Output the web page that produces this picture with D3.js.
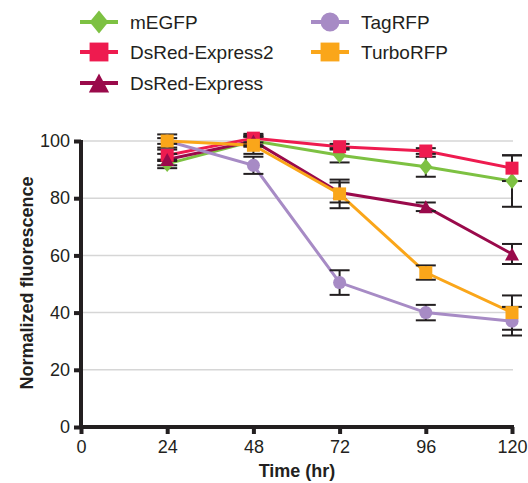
<!DOCTYPE html>
<html>
<head>
<meta charset="utf-8">
<script src="https://cdn.jsdelivr.net/npm/d3@7"></script>
<style>
  body { margin: 0; background: #fff; }
  text { font-family: "Liberation Sans", Arial, sans-serif; fill: #231f20; }
</style>
</head>
<body>
<svg id="chart" width="528" height="483"></svg>
<script>
// time points (hr) and tick labels
const times = [24, 48, 72, 96, 120];
const xTicks = [0, 24, 48, 72, 96, 120];
const yTicks = [0, 20, 40, 60, 80, 100];

// normalized fluorescence
const mEGFP = [92, 100, 95, 91, 86];
const mEGFPErr = [1.5, 1.5, 2.5, 3.5, 9];
const dsRedExpress2 = [95, 101, 98, 96.5, 90.5];
const dsRedExpress2Err = [2, 1.5, 1, 1, 4.5];
const dsRedExpress = [93.5, 100, 82, 77, 60.5];
const dsRedExpressErr = [2, 2, 3.5, 1.5, 3.5];
const tagRFP = [100, 91.5, 50.5, 40, 37];
const tagRFPErr = [1, 3, 4.3, 2.7, 5];
const turboRFP = [100, 98.5, 81.5, 54, 40];
const turboRFPErr = [2.3, 3, 5, 2.5, 6];

var series = [
    {name: "mEGFP", values: mEGFP, err: mEGFPErr, color: "#7dc142", shape: "diamond"},
    {name: "DsRed-Express2", values: dsRedExpress2, err: dsRedExpress2Err, color: "#ee1b4f", shape: "square"},
    {name: "DsRed-Express", values: dsRedExpress, err: dsRedExpressErr, color: "#9a0a4b", shape: "triangle"},
    {name: "TagRFP", values: tagRFP, err: tagRFPErr, color: "#a78bc5", shape: "circle"},
    {name: "TurboRFP", values: turboRFP, err: turboRFPErr, color: "#faa61a", shape: "square"}
];

var svg = d3.select("#chart");
var dark = "#231f20";

var x = d3.scaleLinear().domain([0, 120]).range([81, 512]);
var y = d3.scaleLinear().domain([0, 100]).range([427, 141]);

// marker path, k scales it up for the legend
function markerPath(shape, k) {
    k = k || 1;
    if (shape == "square") {
        var s = 6.5 * k;
        return "M" + (-s) + "," + (-s) + "H" + s + "V" + s + "H" + (-s) + "Z";
    }
    if (shape == "diamond") {
        var w = 6.5 * k, h = 8 * k;
        return "M0," + (-h) + "L" + w + ",0L0," + h + "L" + (-w) + ",0Z";
    }
    if (shape == "triangle") {
        var w = 7 * k, h = 6.5 * k;
        return "M0," + (-h) + "L" + w + "," + h + "L" + (-w) + "," + h + "Z";
    }
    var r = 6.5 * k;
    return "M" + r + ",0A" + r + "," + r + " 0 1,1 " + (-r) + ",0A" + r + "," + r + " 0 1,1 " + r + ",0Z";
}

// gridlines
svg.append("g").selectAll("line")
    .data(yTicks.filter(function(d) { return d > 0; }))
    .enter().append("line")
    .attr("x1", x(0) + 2).attr("x2", x(120) + 1)
    .attr("y1", function(d) { return y(d); })
    .attr("y2", function(d) { return y(d); })
    .style("stroke", "#d6d6d6").style("stroke-width", 1.5);

// axes
var xAxis = svg.append("g")
    .attr("transform", "translate(0," + y(0) + ")")
    .call(d3.axisBottom(x).tickValues(xTicks).tickSize(7).tickPadding(6));
var yAxis = svg.append("g")
    .attr("transform", "translate(" + x(0) + ",0)")
    .call(d3.axisLeft(y).tickValues(yTicks).tickSize(7).tickPadding(4));

[xAxis, yAxis].forEach(function(ax) {
    ax.select(".domain").style("stroke", dark).style("stroke-width", 4);
    ax.selectAll(".tick line").style("stroke", dark).style("stroke-width", 4);
    ax.selectAll(".tick text")
        .style("font-family", "'Liberation Sans', Arial, sans-serif")
        .style("font-size", "18px").style("fill", dark);
});
xAxis.select(".domain").attr("d", "M" + (x(0) - 2) + ",0H" + (x(120) + 2));
xAxis.selectAll(".tick line").attr("y1", 0);
yAxis.select(".domain").attr("d", "M0," + (y(100) - 1) + "V" + (y(0) + 2));

// axis titles
svg.append("text")
    .attr("x", 297).attr("y", 477)
    .attr("text-anchor", "middle")
    .style("font-size", "18px").style("font-weight", "bold")
    .text("Time (hr)");
svg.append("text")
    .attr("transform", "translate(33,283) rotate(-90)")
    .attr("text-anchor", "middle")
    .style("font-size", "18px").style("font-weight", "bold")
    .text("Normalized fluorescence");

var line = d3.line()
    .x(function(d) { return x(d.t); })
    .y(function(d) { return y(d.v); });

series.forEach(function(s) {
    s.points = times.map(function(t, i) { return {t: t, v: s.values[i], e: s.err[i]}; });
});

// lines
series.forEach(function(s) {
    svg.append("path")
        .datum(s.points)
        .attr("d", line)
        .style("fill", "none")
        .style("stroke", s.color)
        .style("stroke-width", 3);
});

// error bars (under the markers)
series.forEach(function(s) {
    var g = svg.append("g").style("stroke", dark).style("stroke-width", 2);
    s.points.forEach(function(d) {
        var cx = x(d.t), lo = y(d.v - d.e), hi = y(d.v + d.e);
        g.append("line").attr("x1", cx).attr("x2", cx).attr("y1", lo).attr("y2", hi);
        g.append("line").attr("x1", cx - 10).attr("x2", cx + 10).attr("y1", lo).attr("y2", lo);
        g.append("line").attr("x1", cx - 10).attr("x2", cx + 10).attr("y1", hi).attr("y2", hi);
    });
});

// markers
series.forEach(function(s) {
    svg.append("g").selectAll("path")
        .data(s.points)
        .enter().append("path")
        .attr("d", markerPath(s.shape))
        .attr("transform", function(d) { return "translate(" + x(d.t) + "," + y(d.v) + ")"; })
        .style("fill", s.color);
});

// legend
var legendPos = [
    {x: 80, y: 22}, {x: 80, y: 52}, {x: 80, y: 83},
    {x: 311, y: 22}, {x: 311, y: 52}
];
var legend = svg.append("g").selectAll("g")
    .data(series)
    .enter().append("g")
    .attr("transform", function(d, i) { return "translate(" + legendPos[i].x + "," + legendPos[i].y + ")"; });
legend.append("line")
    .attr("x1", 0).attr("x2", 38)
    .style("stroke", function(d) { return d.color; })
    .style("stroke-width", 4);
legend.append("path")
    .attr("d", function(d) { return markerPath(d.shape, 1.45); })
    .attr("transform", "translate(19,0)")
    .style("fill", function(d) { return d.color; });
legend.append("text")
    .attr("x", 50).attr("y", 7)
    .style("font-size", "19px")
    .text(function(d) { return d.name; });
</script>
</body>
</html>
